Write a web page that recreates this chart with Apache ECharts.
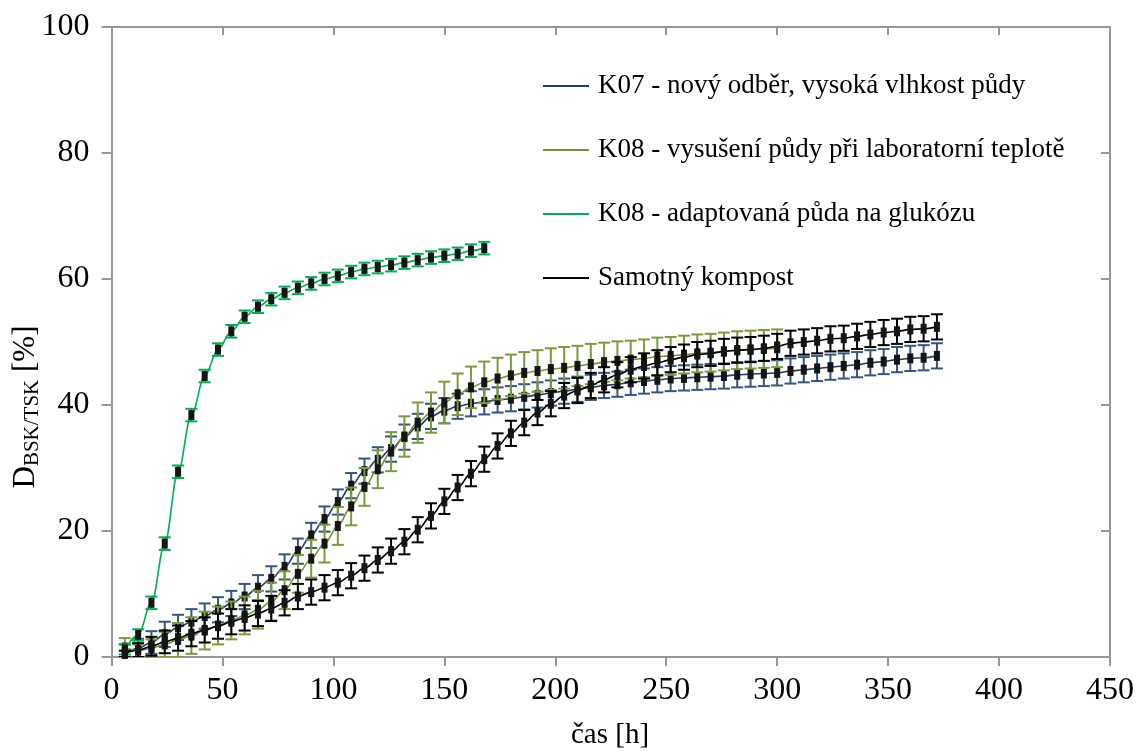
<!DOCTYPE html>
<html>
<head>
<meta charset="utf-8">
<script src="https://cdn.jsdelivr.net/npm/echarts@6/dist/echarts.min.js"></script>
<style>
  html, body { margin: 0; padding: 0; background: #fff; }
  #chart { width: 1144px; height: 751px; }
</style>
</head>
<body>
<div id="chart"></div>
<script>
// sampling times [h]
var hours = [6,12,18,24,30,36,42,48,54,60,66,72,78,84,90,96,102,108,114,120,
  126,132,138,144,150,156,162,168,174,180,186,192,198,204,210,216,222,228,234,240,
  246,252,258,264,270,276,282,288,294,300,306,312,318,324,330,336,342,348,354,360,
  366,372];

// K07 - new sample, high soil moisture
var k07Values = [0.5,1.4,2.3,3.6,4.7,5.6,6.5,7.5,8.5,9.6,
  11.0,12.4,14.3,16.8,19.3,21.9,24.6,27.2,29.5,31.3,
  33.0,34.9,36.6,38.2,39.1,39.8,40.2,40.5,40.8,41.0,
  41.3,41.6,41.9,42.2,42.5,42.8,43.1,43.3,43.6,43.8,
  44.0,44.2,44.3,44.4,44.5,44.6,44.8,44.9,45.0,45.1,
  45.4,45.6,45.8,46.0,46.2,46.4,46.7,46.9,47.2,47.4,
  47.5,47.8];
var k07Errors = [1.5,1.5,1.8,2.0,2.0,2.0,2.0,2.0,2.0,2.0,
  2.0,2.0,2.0,2.0,2.0,2.0,2.0,2.0,2.0,2.0,
  2.0,2.0,2.0,2.0,2.0,2.0,2.0,2.0,2.0,2.0,
  2.0,2.0,2.0,2.0,2.0,2.0,2.0,2.0,2.0,2.0,
  2.0,2.0,2.0,2.0,2.0,2.0,2.0,2.0,2.0,2.0,
  2.0,2.0,2.0,2.0,2.0,2.0,2.0,2.0,2.0,2.0,
  2.0,2.0];

// K08 - soil dried at laboratory temperature
var k08DryValues = [1.5,1.0,1.4,2.0,2.7,3.4,4.2,5.0,5.8,6.6,
  7.5,8.8,10.6,13.2,15.6,18.0,20.8,23.9,27.0,29.8,
  32.6,35.0,37.2,38.8,40.4,41.7,42.8,43.6,44.2,44.7,
  45.1,45.4,45.7,45.9,46.2,46.5,46.8,47.0,47.2,47.4,
  47.7,47.8,48.0,48.2,48.3,48.5,48.7,48.8,48.9,49.0];
var k08DryErrors = [1.5,1.0,1.4,2.0,2.7,2.9,3.0,3.0,3.0,3.0,
  3.0,3.0,3.0,3.0,3.0,3.0,3.0,3.0,3.0,3.0,
  3.1,3.2,3.2,3.2,3.3,3.3,3.3,3.3,3.3,3.3,
  3.3,3.3,3.3,3.3,3.2,3.2,3.1,3.1,3.0,3.0,
  3.0,3.0,3.0,3.0,3.0,3.0,3.0,3.0,3.0,3.0];

// K08 - soil adapted to glucose
var k08GluValues = [1.2,3.5,8.6,18.0,29.4,38.4,44.6,48.8,51.7,54.0,
  55.6,56.8,57.8,58.6,59.3,60.0,60.5,61.1,61.6,61.9,
  62.2,62.6,63.0,63.4,63.7,64.0,64.5,64.9];
var k08GluErrors = [0.8,0.9,1.0,1.0,1.0,1.0,1.0,1.0,1.0,1.0,
  1.0,1.0,1.0,1.0,1.0,1.0,1.0,1.0,1.0,1.0,
  1.0,1.0,1.0,1.0,1.0,1.0,1.0,1.0];

// compost alone
var compostValues = [0.5,1.1,1.7,2.4,3.0,3.7,4.3,4.9,5.6,6.2,
  6.9,7.7,8.6,9.6,10.3,11.0,11.8,12.9,14.1,15.4,
  16.8,18.3,20.2,22.4,24.7,26.9,29.1,31.4,33.5,35.5,
  37.2,38.8,40.2,41.5,42.3,43.1,44.0,44.8,45.6,46.2,
  46.7,47.2,47.6,48.0,48.2,48.5,48.7,48.8,49.0,49.3,
  49.8,50.0,50.2,50.5,50.6,50.9,51.2,51.5,51.7,52.0,
  52.1,52.4];
var compostErrors = [0.5,1.1,1.5,1.8,2.0,2.0,2.0,2.0,2.0,2.0,
  2.0,2.0,2.0,2.0,2.0,2.0,2.0,2.0,2.0,2.0,
  2.0,2.0,2.0,2.0,2.0,2.0,2.0,2.0,2.0,2.0,
  2.0,2.0,2.0,2.0,2.0,2.0,2.0,2.0,2.0,2.0,
  2.0,2.0,2.0,2.0,2.0,2.0,2.0,2.0,2.0,2.0,
  2.0,2.0,2.0,2.0,2.0,2.0,2.0,2.0,2.0,2.0,
  2.0,2.0];

var seriesNames = [
  'K07 - nový odběr, vysoká vlhkost půdy',
  'K08 - vysušení půdy při laboratorní teplotě',
  'K08 - adaptovaná půda na glukózu',
  'Samotný kompost'
];
var lineColors = ['#1F3B66', '#77933C', '#00B050', '#000000'];
var errColors = ['#34557F', '#7A9A3E', '#00B050', '#000000'];
var valueSets = [k07Values, k08DryValues, k08GluValues, compostValues];
var errorSets = [k07Errors, k08DryErrors, k08GluErrors, compostErrors];

var xTicks = { min: 0, max: 450, interval: 50 };
var yTicks = { min: 0, max: 100, interval: 20 };

var FONT = '"Liberation Serif", "Times New Roman", serif';
var AXIS_GRAY = '#969696';

function pairs(vals) {
  return vals.map(function (v, i) { return [hours[i], v]; });
}
function triples(vals, errs) {
  return vals.map(function (v, i) { return [hours[i], v, errs[i]]; });
}
function errorBarRenderer(color) {
  return function (params, api) {
    var x = api.value(0), y = api.value(1), e = api.value(2);
    var hi = api.coord([x, y + e]);
    var lo = api.coord([x, y - e]);
    var cw = 6;
    var st = { stroke: color, lineWidth: 2 };
    return {
      type: 'group',
      children: [
        { type: 'line', shape: { x1: hi[0], y1: hi[1], x2: lo[0], y2: lo[1] }, style: st },
        { type: 'line', shape: { x1: hi[0] - cw, y1: hi[1], x2: hi[0] + cw, y2: hi[1] }, style: st },
        { type: 'line', shape: { x1: lo[0] - cw, y1: lo[1], x2: lo[0] + cw, y2: lo[1] }, style: st }
      ]
    };
  };
}

var series = [];
for (var i = 0; i < valueSets.length; i++) {
  series.push({
    name: seriesNames[i] + ' (chyba)',
    type: 'custom',
    renderItem: errorBarRenderer(errColors[i]),
    data: triples(valueSets[i], errorSets[i]),
    encode: { x: 0, y: 1 },
    clip: true,
    z: 2 + i * 2,
    silent: true
  });
  series.push({
    name: seriesNames[i],
    type: 'line',
    data: pairs(valueSets[i]),
    smooth: 0.35,
    smoothMonotone: 'x',
    symbol: 'rect',
    symbolSize: [6, 10],
    showSymbol: true,
    itemStyle: { color: '#151515' },
    lineStyle: { color: lineColors[i], width: 1.6 },
    z: 3 + i * 2
  });
}

var chart = echarts.init(document.getElementById('chart'), null, { renderer: 'canvas' });
chart.setOption({
  animation: false,
  backgroundColor: '#ffffff',
  grid: { left: 111.5, right: 34, top: 27, bottom: 94, containLabel: false },
  legend: {
    orient: 'vertical',
    left: 538,
    top: 66,
    itemGap: 34,
    itemWidth: 46,
    itemHeight: 2,
    icon: 'rect',
    textStyle: { fontFamily: FONT, fontSize: 27, color: '#000', lineHeight: 30, padding: [0, 0, 0, 4] },
    data: seriesNames.map(function (n, i) {
      return { name: n, icon: 'rect', itemStyle: { color: lineColors[i] } };
    })
  },
  xAxis: [{
    type: 'value',
    min: xTicks.min, max: xTicks.max, interval: xTicks.interval,
    axisLine: { show: true, lineStyle: { color: AXIS_GRAY, width: 2 } },
    axisTick: { show: true, inside: false, length: 9, lineStyle: { color: AXIS_GRAY, width: 2 } },
    axisLabel: { fontFamily: FONT, fontSize: 32, color: '#000', margin: 18 },
    splitLine: { show: false }
  }, {
    type: 'value', position: 'top',
    min: xTicks.min, max: xTicks.max, interval: xTicks.interval,
    axisLine: { show: true, onZero: false, lineStyle: { color: AXIS_GRAY, width: 2 } },
    axisTick: { show: true, inside: true, length: 8, lineStyle: { color: AXIS_GRAY, width: 2 } },
    axisLabel: { show: false },
    splitLine: { show: false }
  }],
  yAxis: [{
    type: 'value',
    min: yTicks.min, max: yTicks.max, interval: yTicks.interval,
    axisLine: { show: true, lineStyle: { color: AXIS_GRAY, width: 2 } },
    axisTick: { show: true, inside: false, length: 10, lineStyle: { color: AXIS_GRAY, width: 2 } },
    axisLabel: { fontFamily: FONT, fontSize: 32, color: '#000', margin: 22 },
    splitLine: { show: false }
  }, {
    type: 'value', position: 'right',
    min: yTicks.min, max: yTicks.max, interval: yTicks.interval,
    axisLine: { show: true, onZero: false, lineStyle: { color: AXIS_GRAY, width: 2 } },
    axisTick: { show: true, inside: true, length: 9, lineStyle: { color: AXIS_GRAY, width: 2 } },
    axisLabel: { show: false },
    splitLine: { show: false }
  }],
  graphic: [{
    type: 'text',
    x: 610, y: 735,
    style: {
      text: 'čas [h]',
      font: '29px ' + FONT,
      fill: '#000',
      align: 'center',
      verticalAlign: 'middle'
    }
  }, {
    type: 'text',
    x: 26, y: 407,
    rotation: Math.PI / 2,
    style: {
      text: '{d|D}{s|BSK/TSK}{d| [%]}',
      fill: '#000',
      align: 'center',
      verticalAlign: 'middle',
      rich: {
        d: { fontFamily: FONT, fontSize: 31, lineHeight: 34, fill: '#000', verticalAlign: 'middle' },
        s: { fontFamily: FONT, fontSize: 21, lineHeight: 34, fill: '#000', verticalAlign: 'bottom', padding: [14, 0, 0, 0] }
      }
    }
  }],
  series: series
});
</script>
</body>
</html>
